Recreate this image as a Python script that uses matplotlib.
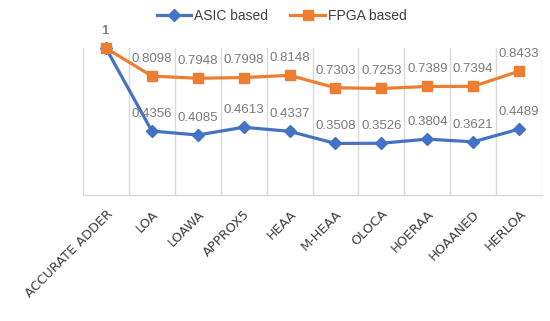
import matplotlib
matplotlib.use("Agg")
import matplotlib.pyplot as plt
import numpy as np

categories = ["ACCURATE ADDER", "LOA", "LOAWA", "APPROX5", "HEAA", "M-HEAA",
              "OLOCA", "HOERAA", "HOAANED", "HERLOA"]
asic = [1, 0.4356, 0.4085, 0.4613, 0.4337, 0.3508, 0.3526, 0.3804, 0.3621, 0.4489]
fpga = [1, 0.8098, 0.7948, 0.7998, 0.8148, 0.7303, 0.7253, 0.7389, 0.7394, 0.8433]
asic_labels = ["1", "0.4356", "0.4085", "0.4613", "0.4337", "0.3508", "0.3526", "0.3804", "0.3621", "0.4489"]
fpga_labels = ["1", "0.8098", "0.7948", "0.7998", "0.8148", "0.7303", "0.7253", "0.7389", "0.7394", "0.8433"]

plt.rcParams['font.family'] = ['Liberation Sans', 'DejaVu Sans']

fig = plt.figure(figsize=(5.5, 3.21), dpi=100)
ax = fig.add_axes([0.1509, 0.3925, 0.8346, 0.4575])

x = np.arange(len(categories))
blue = "#4472C4"
orange = "#ED7D31"

ax.plot(x, asic, color=blue, lw=2.3, marker="D", ms=6, label="ASIC based", clip_on=False, zorder=3)
ax.plot(x, fpga, color=orange, lw=2.3, marker="s", ms=7, label="FPGA based", clip_on=False, zorder=3)

for xi, v, t in zip(x, asic, asic_labels):
    ax.annotate(t, (xi, v), xytext=(0, 8), textcoords="offset points", ha="center", va="bottom",
                fontsize=9.5, color="#7A7A7A")
for xi, v, t in zip(x, fpga, fpga_labels):
    ax.annotate(t, (xi, v), xytext=(0, 8), textcoords="offset points", ha="center", va="bottom",
                fontsize=9.5, color="#7A7A7A")

ax.set_xlim(-0.5, len(categories) - 0.5)
ax.set_ylim(0, 1)
ax.set_yticks([])
ax.set_xticks(x)
ax.set_xticklabels(categories, rotation=45, ha="right", rotation_mode="anchor", fontsize=9.3,
                   color="#404040", family="DejaVu Sans")
ax.tick_params(axis="x", length=0, pad=9)
for b in np.arange(-0.5, len(categories), 1):
    ax.axvline(b, color="#D9D9D9", lw=1, zorder=0)
for s in ["top", "left", "right"]:
    ax.spines[s].set_visible(False)
ax.spines["bottom"].set_color("#D9D9D9")
ax.spines["bottom"].set_linewidth(1)

fig.legend(loc="upper center", bbox_to_anchor=(0.512, 1.01), ncol=2, frameon=False, fontsize=10,
           handlelength=2.5, columnspacing=1.6, handletextpad=0.2, labelcolor="#404040")

fig.savefig("out.png", dpi=100)
